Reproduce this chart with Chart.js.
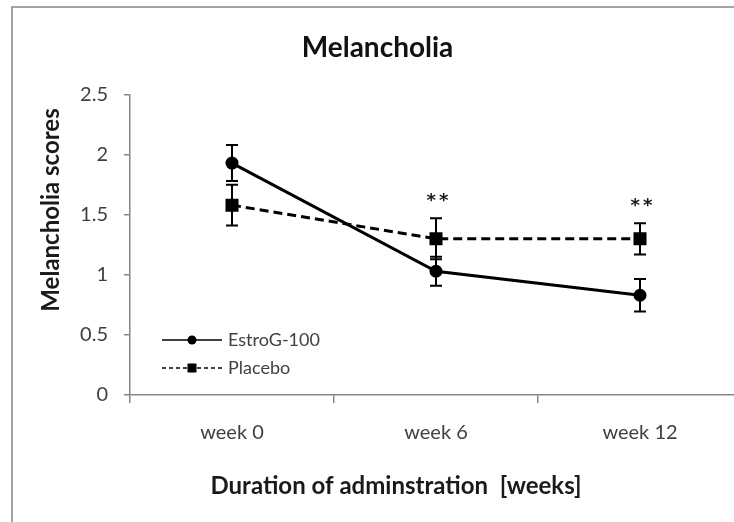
<!DOCTYPE html>
<html>
<head>
<meta charset="utf-8">
<script src="https://cdn.jsdelivr.net/npm/chart.js@4"></script>
<style>
  html, body { margin: 0; padding: 0; background: #fff; overflow: hidden; width: 734px; height: 522px; }
  #frame { position: absolute; left: 11px; top: 6px; width: 800px; height: 600px;
           border-left: 2px solid #a3a3a3; border-top: 2px solid #a3a3a3; }
  #wrap { position: absolute; left: 0; top: 0; width: 760px; height: 514px; }
</style>
</head>
<body>
<div id="frame"><div id="wrap"><canvas id="chart"></canvas></div></div>
<script>
// data
const WEEKS        = ['week 0', 'week 6', 'week 12'];
const ESTROG_MEAN  = [1.93, 1.03, 0.83];
const ESTROG_ERR   = [0.15, 0.12, 0.135];
const PLACEBO_MEAN = [1.58, 1.30, 1.30];
const PLACEBO_ERR  = [0.17, 0.17, 0.13];
const SIGNIF       = ['', '**', '**'];
const Y_TICKS      = [0, 0.5, 1, 1.5, 2, 2.5];

const AXIS_COLOR = '#868686';
const TEXT_COLOR = '#404040';

Chart.defaults.font.family = 'Lato';
Chart.defaults.color = TEXT_COLOR;

// vertical error bars with caps, drawn under the markers
const errorBars = {
  id: 'errorBars',
  beforeDatasetsDraw(chart) {
    const { ctx, scales: { y } } = chart;
    chart.data.datasets.forEach((ds, i) => {
      const meta = chart.getDatasetMeta(i);
      ctx.save();
      ctx.strokeStyle = '#000';
      ctx.lineWidth = 2;
      ds.errors.forEach((e, j) => {
        const px  = meta.data[j].x;
        const top = y.getPixelForValue(ds.data[j] + e);
        const bot = y.getPixelForValue(ds.data[j] - e);
        ctx.beginPath();
        ctx.moveTo(px, top);     ctx.lineTo(px, bot);
        ctx.moveTo(px - 6, top); ctx.lineTo(px + 6, top);
        ctx.moveTo(px - 6, bot); ctx.lineTo(px + 6, bot);
        ctx.stroke();
      });
      ctx.restore();
    });
  },
  // significance stars above the highest cap
  afterDatasetsDraw(chart) {
    const { ctx, scales: { y } } = chart;
    ctx.save();
    ctx.fillStyle = '#1a1a1a';
    ctx.font = 'bold 18px "DejaVu Sans"';
    ctx.letterSpacing = '3px';
    ctx.textAlign = 'center';
    ctx.textBaseline = 'middle';
    SIGNIF.forEach((s, j) => {
      if (!s) return;
      const px = chart.getDatasetMeta(1).data[j].x;
      const tops = chart.data.datasets.map(ds => y.getPixelForValue(ds.data[j] + ds.errors[j]));
      ctx.fillText(s, px + 3, Math.min(...tops) - 17);
    });
    ctx.restore();
  }
};

// legend sitting inside the plot, lower left
const insideLegend = {
  id: 'insideLegend',
  afterDraw(chart) {
    const { ctx, chartArea: a } = chart;
    chart.data.datasets.forEach((ds, i) => {
      const yy = a.bottom - 55 + i * 28;
      const x0 = a.left + 32, x1 = a.left + 92, xm = a.left + 62;
      ctx.save();
      ctx.strokeStyle = ds.borderColor;
      ctx.lineWidth = 1.5;
      ctx.setLineDash(ds.borderDash ? [4, 3] : []);
      ctx.beginPath();
      ctx.moveTo(x0, yy); ctx.lineTo(x1, yy);
      ctx.stroke();
      ctx.fillStyle = ds.backgroundColor;
      if (ds.pointStyle === 'rect') {
        ctx.fillRect(xm - 4.5, yy - 4.5, 9, 9);
      } else {
        ctx.beginPath();
        ctx.arc(xm, yy, 4.5, 0, Math.PI * 2);
        ctx.fill();
      }
      ctx.fillStyle = TEXT_COLOR;
      ctx.font = '18px Lato';
      ctx.textAlign = 'left';
      ctx.textBaseline = 'middle';
      ctx.fillText(ds.label, a.left + 98, yy);
      ctx.restore();
    });
  }
};

// axis titles, placed where the reference has them
const axisTitles = {
  id: 'axisTitles',
  afterDraw(chart) {
    const { ctx } = chart;
    ctx.save();
    ctx.fillStyle = '#1a1a1a';
    ctx.textAlign = 'center';
    ctx.textBaseline = 'middle';
    ctx.font = 'bold 24px Lato';
    ctx.fillText('Duration of adminstration  [weeks]', 383, 478);
    ctx.translate(38, 202);
    ctx.rotate(-Math.PI / 2);
    ctx.font = 'bold 24px Lato';
    ctx.fillText('Melancholia scores', 0, 0);
    ctx.restore();
  }
};

new Chart(document.getElementById('chart'), {
  type: 'line',
  data: {
    labels: WEEKS,
    datasets: [
      {
        label: 'EstroG-100',
        data: ESTROG_MEAN,
        errors: ESTROG_ERR,
        borderColor: '#000',
        backgroundColor: '#000',
        borderWidth: 3,
        pointStyle: 'circle',
        pointRadius: 6.5,
        pointBorderWidth: 0,
      },
      {
        label: 'Placebo',
        data: PLACEBO_MEAN,
        errors: PLACEBO_ERR,
        borderColor: '#000',
        backgroundColor: '#000',
        borderWidth: 3,
        borderDash: [9, 5],
        pointStyle: 'rect',
        pointRadius: 9.2,
        pointBorderWidth: 0,
      },
    ],
  },
  options: {
    responsive: true,
    maintainAspectRatio: false,
    animation: false,
    layout: { padding: { left: 0, right: 31, top: 0, bottom: 0 } },
    plugins: {
      legend: { display: false },
      tooltip: { enabled: false },
      title: {
        display: true,
        text: 'Melancholia',
        color: '#111',
        font: { size: 28, weight: 'bold' },
        padding: { top: 23, bottom: 30 },
      },
    },
    scales: {
      x: {
        type: 'category',
        offset: true,
        grid: { offset: true, drawOnChartArea: false, tickLength: 8, color: AXIS_COLOR, lineWidth: 1.5 },
        border: { color: AXIS_COLOR, width: 1.5 },
        ticks: { color: TEXT_COLOR, font: { size: 20 }, padding: 18, maxRotation: 0, autoSkip: false },
        afterFit: s => { s.height = 127; },
      },
      y: {
        min: 0,
        max: 2.5,
        afterBuildTicks: s => { s.ticks = Y_TICKS.map(v => ({ value: v })); },
        ticks: { color: TEXT_COLOR, font: { size: 20 }, padding: 16, callback: v => String(v) },
        grid: { drawOnChartArea: false, tickLength: 6, color: AXIS_COLOR, lineWidth: 1.5 },
        border: { color: AXIS_COLOR, width: 1.5 },
        afterFit: s => { s.width = 117; },
      },
    },
  },
  plugins: [errorBars, insideLegend, axisTitles],
});
</script>
</body>
</html>
